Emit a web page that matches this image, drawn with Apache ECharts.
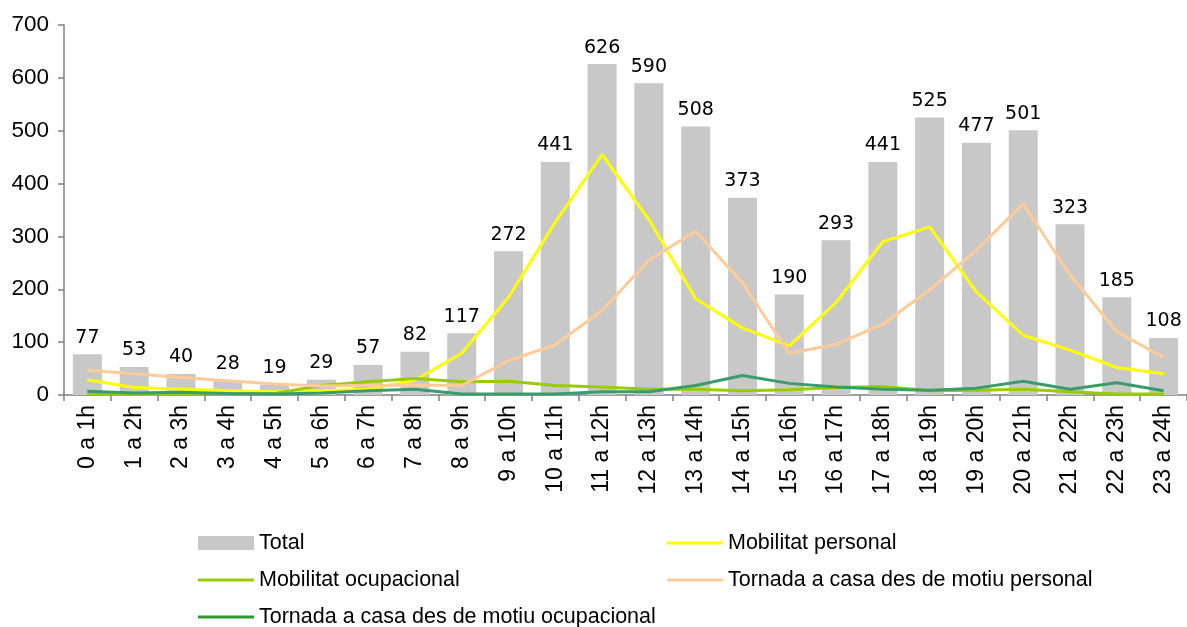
<!DOCTYPE html>
<html>
<head>
<meta charset="utf-8">
<script src="https://cdn.jsdelivr.net/npm/echarts@6/dist/echarts.min.js"></script>
<style>
  html, body { margin: 0; padding: 0; background: #fff; }
  #chart { width: 1187px; height: 627px; }
</style>
</head>
<body>
<div id="chart"></div>
<script>
const hours = ["0 a 1h", "1 a 2h", "2 a 3h", "3 a 4h", "4 a 5h", "5 a 6h", "6 a 7h", "7 a 8h",
  "8 a 9h", "9 a 10h", "10 a 11h", "11 a 12h", "12 a 13h", "13 a 14h", "14 a 15h", "15 a 16h",
  "16 a 17h", "17 a 18h", "18 a 19h", "19 a 20h", "20 a 21h", "21 a 22h", "22 a 23h", "23 a 24h"];
const total = [77, 53, 40, 28, 19, 29, 57, 82, 117, 272, 441, 626, 590, 508, 373, 190, 293, 441, 525, 477, 501, 323, 185, 108];
const mobPersonal = [29, 14, 11, 8, 6, 8, 11, 28, 79, 185, 327, 455, 332, 182, 127, 93, 175, 290, 318, 195, 113, 85, 52, 40];
const mobOcupacional = [2, 2, 3, 3, 3, 18, 25, 31, 25, 26, 18, 15, 11, 11, 8, 10, 14, 16, 8, 9, 11, 6, 2, 2];
const tornadaPersonal = [47, 40, 33, 27, 21, 17, 18, 19, 18, 65, 95, 160, 255, 310, 212, 79, 96, 134, 199, 274, 362, 227, 120, 71];
const tornadaOcupacional = [7, 4, 5, 3, 2, 4, 8, 11, 2, 2, 2, 6, 6, 18, 37, 22, 15, 11, 9, 13, 26, 11, 23, 8];

const yTicks = [0, 100, 200, 300, 400, 500, 600, 700];

const chart = echarts.init(document.getElementById("chart"));

const axisFont = "'Liberation Sans', Arial, sans-serif";

function legendBox(name, left, top, h, color) {
  return {
    data: [{ name: name, itemStyle: color ? { color: color } : undefined }],
    left: left,
    top: top,
    padding: 0,
    icon: "rect",
    itemWidth: 56,
    itemHeight: h,
    textStyle: { fontFamily: axisFont, fontSize: 21.5, color: "#000" },
    selectedMode: false
  };
}

const lineSeries = (name, data, color) => ({
  name: name,
  type: "line",
  data: data,
  symbol: "none",
  lineStyle: { color: color, width: 3 },
  itemStyle: { color: color },
  animation: false
});

chart.setOption({
  backgroundColor: "#fff",
  animation: false,
  grid: { left: 64, top: 25, width: 1130, height: 370 },
  legend: [
    legendBox("Total", 198, 532, 14),
    legendBox("Mobilitat personal", 667, 532, 3),
    legendBox("Mobilitat ocupacional", 198, 569, 3),
    legendBox("Tornada a casa des de motiu personal", 667, 569, 3),
    legendBox("Tornada a casa des de motiu ocupacional", 198, 606, 3, "#2e992e")
  ],
  xAxis: {
    type: "category",
    data: hours,
    axisLine: { lineStyle: { color: "#808080", width: 1.5 } },
    axisTick: { show: true, length: 6, interval: 0, lineStyle: { color: "#808080", width: 1.5 } },
    axisLabel: {
      rotate: 90, interval: 0, margin: 10,
      fontFamily: axisFont, fontSize: 23, color: "#000"
    }
  },
  yAxis: {
    type: "value",
    min: yTicks[0],
    max: yTicks[yTicks.length - 1],
    interval: 100,
    axisLine: { show: true, lineStyle: { color: "#808080", width: 1.5 } },
    axisTick: { show: true, length: 6, lineStyle: { color: "#808080", width: 1.5 } },
    splitLine: { show: false },
    axisLabel: { margin: 15, fontFamily: axisFont, fontSize: 22.5, color: "#000" }
  },
  series: [
    {
      name: "Total",
      type: "bar",
      data: total,
      barWidth: "62%",
      itemStyle: { color: "#c8c8c8" },
      label: {
        show: true, position: "top", distance: 7,
        fontFamily: "'DejaVu Sans', sans-serif", fontSize: 19, color: "#000"
      }
    },
    lineSeries("Mobilitat personal", mobPersonal, "#ffff00"),
    lineSeries("Mobilitat ocupacional", mobOcupacional, "#99cc00"),
    lineSeries("Tornada a casa des de motiu personal", tornadaPersonal, "#ffcc99"),
    lineSeries("Tornada a casa des de motiu ocupacional", tornadaOcupacional, "#3a9c6c")
  ]
});
</script>
</body>
</html>
